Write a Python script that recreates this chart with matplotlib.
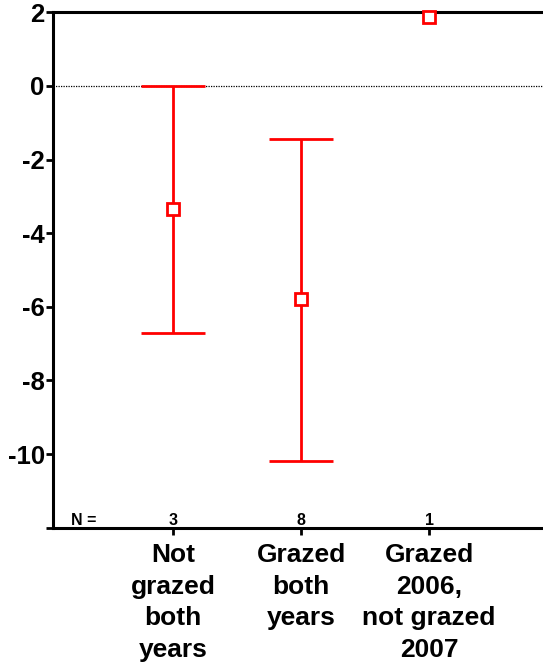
import matplotlib
matplotlib.use('Agg')
import matplotlib.pyplot as plt

plt.rcParams['font.family'] = ['Liberation Sans', 'DejaVu Sans']

groups = ['Not\ngrazed\nboth\nyears', 'Grazed\nboth\nyears', 'Grazed\n2006,\nnot grazed\n2007']
means = [-3.35, -5.79, 1.87]
lower = [-6.72, -10.2, 1.87]
upper = [0.0, -1.44, 1.87]
counts = [3, 8, 1]
yticks = [2, 0, -2, -4, -6, -8, -10, -12]
ylabels = ['2', '0', '-2', '-4', '-6', '-8', '-10', '']

W, H = 543, 668
fig = plt.figure(figsize=(W / 100, H / 100), dpi=100, facecolor='white')
ax = fig.add_axes([53 / W, (H - 527.7) / H, (W - 53) / W, (527.7 - 12.3) / H])

x = [1, 2, 3]
red = '#ff0000'
for xi, m, lo, hi in zip(x, means, lower, upper):
    if hi > lo:
        ax.errorbar(xi, m, yerr=[[m - lo], [hi - m]], fmt='none', ecolor=red,
                    elinewidth=2, capsize=23, capthick=2, zorder=3)
ax.plot(x, means, 's', ms=9, mfc='white', mec=red, mew=2, zorder=4,
        clip_on=False)

ax.axhline(0, color='black', lw=0.9, ls=(0, (1, 1)), zorder=1)

ax.set_xlim(0.06, 3.89)
ax.set_ylim(-12, 2)
ax.set_yticks(yticks)
ax.set_yticklabels(ylabels, fontsize=18.5, fontweight='bold')
ax.set_xticks(x)
ax.set_xticklabels(groups, fontsize=19, fontweight='bold', linespacing=1.4)

for s in ['left', 'bottom', 'top']:
    ax.spines[s].set_linewidth(2.2)
ax.spines['right'].set_visible(False)
ax.tick_params(axis='y', direction='out', length=5, width=2, pad=1)
ax.tick_params(axis='x', direction='out', length=5, width=2, pad=6)

ax.text(0.2, -11.8, 'N =', fontsize=11.5, fontweight='bold', ha='left', va='center')
for xi, c in zip(x, counts):
    ax.text(xi, -11.8, str(c), fontsize=11.5, fontweight='bold', ha='center', va='center')

fig.savefig('out.png', dpi=100, facecolor='white')
